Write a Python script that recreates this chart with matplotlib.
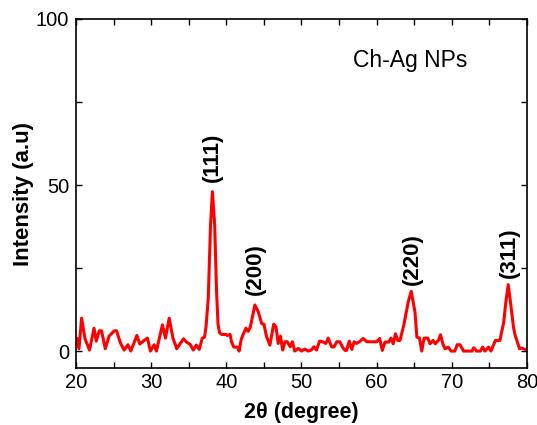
import matplotlib

matplotlib.use("Agg")
import matplotlib.pyplot as plt
from matplotlib.ticker import MultipleLocator

plt.rcParams["font.family"] = ["Liberation Sans", "DejaVu Sans"]

# XRD pattern
two_theta = [
    20.0, 20.1, 20.4, 20.75, 21.2, 21.8, 22.4, 22.7, 23.1, 23.4, 23.9, 24.4,
    25.1, 25.4, 25.9, 26.4, 26.9, 27.3, 28.1, 28.5, 29.0, 29.5, 29.9, 30.4,
    30.7, 31.5, 31.9, 32.4, 32.9, 33.4, 34.3, 34.7, 35.2, 35.6, 36.0, 36.4,
    36.8, 37.1, 37.3, 37.6, 37.9, 38.15, 38.45, 38.7, 38.9, 39.1, 39.4, 39.95,
    40.1, 40.5, 40.7, 41.0, 41.5, 41.7, 42.0, 42.6, 42.9, 43.2, 43.8, 44.25,
    44.7, 45.0, 45.36, 45.8, 46.3, 46.6, 46.9, 47.2, 47.5, 47.8, 48.1, 48.5,
    48.8, 49.1, 49.6, 50.0, 50.45, 50.9, 51.3, 51.65, 52.0, 52.4, 52.8, 53.25,
    53.55, 54.0, 54.3, 54.7, 55.1, 55.5, 55.8, 56.0, 56.35, 56.7, 57.0, 57.3,
    57.7, 58.2, 58.7, 59.3, 60.0, 60.4, 60.75, 61.1, 61.6, 61.9, 62.2, 62.5,
    62.8, 63.1, 63.6, 64.2, 64.6, 65.1, 65.35, 65.7, 66.0, 66.3, 66.8, 67.1,
    67.5, 67.8, 68.2, 68.5, 68.8, 69.1, 69.5, 69.9, 70.4, 70.7, 71.1, 71.55,
    72.0, 72.7, 72.9, 73.3, 73.8, 74.1, 74.4, 74.9, 75.2, 75.8, 76.4, 76.9,
    77.2, 77.5, 77.85, 78.2, 78.4, 78.65, 79.0, 79.3, 79.75, 80.0,
]
intensity = [
    3.5, 3.9, 0.7, 9.9, 3.7, 0.3, 6.9, 3.0, 6.1, 6.1, 0.7, 4.5,
    6.1, 6.1, 2.5, 0.3, 1.9, 0.0, 4.7, 2.1, 3.1, 3.9, 0.0, 1.9,
    0.0, 7.9, 3.9, 9.9, 3.9, 0.7, 3.7, 2.7, 2.0, 0.3, 1.8, 0.5,
    3.9, 4.2, 7.3, 16.0, 38.0, 48.0, 38.0, 18.0, 8.0, 5.5, 5.0, 5.0,
    4.7, 5.0, 2.7, 1.2, 1.2, 0.0, 3.7, 6.9, 5.9, 7.3, 13.9, 11.8,
    8.3, 8.1, 4.3, 1.8, 8.1, 7.3, 2.3, 4.5, 0.3, 2.8, 2.8, 1.3,
    2.8, 0.0, 0.8, 0.0, 0.6, 0.0, 0.3, 1.3, 0.3, 3.0, 2.8, 2.3,
    3.9, 1.3, 1.2, 2.8, 2.8, 1.0, 0.2, 0.2, 3.0, 0.5, 2.8, 2.3,
    2.8, 3.8, 2.8, 2.8, 2.8, 3.8, 0.2, 2.7, 2.7, 3.9, 2.2, 5.2,
    3.2, 3.2, 7.7, 14.8, 18.0, 11.7, 4.2, 3.9, 0.0, 3.9, 3.9, 2.2,
    3.2, 2.2, 3.2, 4.9, 2.2, 0.7, 1.2, 0.0, 0.0, 1.9, 1.9, 0.0,
    0.0, 0.0, 1.0, 0.0, 0.0, 1.2, 0.0, 1.2, 0.0, 3.2, 3.2, 8.7,
    15.0, 20.0, 13.8, 7.2, 4.9, 3.2, 0.7, 0.9, 0.5, 0.5,
]

# peak labels
peak_labels = ["(111)", "(200)", "(220)", "(311)"]
peak_x = [38.1, 43.8, 64.8, 77.6]
peak_y = [51, 17, 20, 22]


def main():
    fig = plt.figure(figsize=(5.37, 4.25), dpi=100)
    ax = fig.add_axes([0.1415, 0.1341, 0.8399, 0.8212])

    ax.plot(two_theta, intensity, color="red", lw=2.2)

    for lab, x, y in zip(peak_labels, peak_x, peak_y):
        ax.text(x, y, lab, rotation=90, ha="center", va="bottom",
                fontsize=16, fontweight="bold")

    ax.text(64.4, 87.6, "Ch-Ag NPs", ha="center", va="center", fontsize=16.5)

    ax.set_xlim(20, 80)
    ax.set_ylim(-5.1, 100)
    ax.set_xticks([20, 30, 40, 50, 60, 70, 80])
    ax.set_yticks([0, 50, 100])
    ax.xaxis.set_minor_locator(MultipleLocator(5))
    ax.yaxis.set_minor_locator(MultipleLocator(25))
    ax.tick_params(which="both", direction="in", top=True, right=True,
                   length=4, width=1, labelsize=14.5)
    ax.tick_params(axis="y", pad=5)
    for sp in ax.spines.values():
        sp.set_linewidth(1.2)

    ax.set_xlabel("2θ (degree)", fontsize=15.5, fontweight="bold", labelpad=7)
    ax.set_ylabel("Intensity (a.u)", fontsize=16, fontweight="bold", labelpad=1)

    fig.savefig("out.png", dpi=100)


if __name__ == "__main__":
    main()
